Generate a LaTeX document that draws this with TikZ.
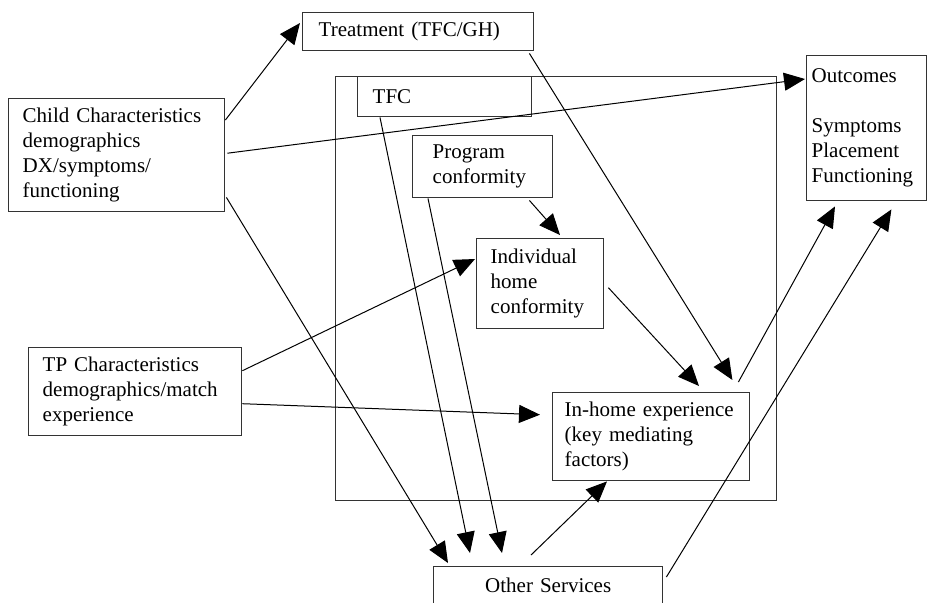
\documentclass[tikz,border=0pt]{standalone}
\usepackage{fontspec}
\setmainfont{Liberation Serif}
\usetikzlibrary{arrows.meta,calc}
\begin{document}
\begin{tikzpicture}[x=0.5pt,y=-0.5pt,
  box/.style={draw=black!80, line width=0.7pt, rectangle, anchor=north west, align=left,
    font=\fontsize{10.5}{12.5}\selectfont, inner ysep=0pt},
  conn/.style={line width=0.5pt, -{Triangle[length=10.5pt,width=9pt]}}]
\useasboundingbox (0,0) rectangle (927,602);
\clip (0,0) rectangle (927,602);
\node[box, minimum width=220.5pt, minimum height=212pt] (big) at (335,76) {};
\node[box, minimum width=115.5pt, minimum height=19pt, text width=99.5pt, inner xsep=8pt] (treat) at (302,12) {Treatment (TFC/GH)};
\node[box, minimum width=87pt, minimum height=20pt, text width=72pt, inner xsep=7.5pt] (tfc) at (357,76) {TFC};
\node[box, minimum width=108pt, minimum height=56.5pt, text width=94pt, inner xsep=7pt] (child) at (8,98) {Child Characteristics\\demographics\\DX/symptoms/\\functioning};
\node[box, minimum width=60pt, minimum height=72.5pt, text width=55pt, inner xsep=2.5pt] (outc) at (806,55) {Outcomes\\[12.5pt]Symptoms\\Placement\\Functioning};
\node[box, minimum width=70pt, minimum height=31pt, text width=50pt, inner xsep=10pt] (prog) at (412,135) {Program\\conformity};
\node[box, minimum width=63.5pt, minimum height=45pt, text width=49.5pt, inner xsep=7pt] (indiv) at (476,238) {Individual\\home\\conformity};
\node[box, minimum width=106.5pt, minimum height=44pt, text width=92.5pt, inner xsep=7pt] (tp) at (28,347) {TP Characteristics\\demographics/match\\experience};
\node[box, minimum width=98.5pt, minimum height=44pt, text width=86.5pt, inner xsep=6pt] (inhome) at (552,392) {In-home experience\\(key mediating\\factors)};
\node[box, minimum width=114.5pt, minimum height=19pt, text width=100pt, inner xsep=7.25pt, align=center] (other) at (433,566) {Other Services};

\draw[conn] ($(child.north east)+(0,22)$) -- ($(treat.north west)+(-2,11)$);
\draw[conn] ($(child.east)+(2,-2)$) -- ($(outc.north west)+(-1,24)$);
\draw[conn] ($(child.south east)+(1,-15)$) -- ($(other.north west)+(15,-3)$);
\draw[conn] ($(treat.south east)+(-5,2)$) -- ($(inhome.north east)+(-18,-12)$);
\draw[conn] ($(tfc.south west)+(23,0)$) -- ($(other.north west)+(37,-13)$);
\draw[conn] ($(prog.south west)+(16,0)$) -- ($(other.north west)+(69,-13)$);
\draw[conn] ($(prog.south east)+(-24,2)$) -- ($(indiv.north west)+(84,-3)$);
\draw[conn] ($(indiv.east)+(4,4)$) -- ($(inhome.north west)+(147,-6)$);
\draw[conn] ($(inhome.north east)+(-12,-10)$) -- ($(outc.south west)+(29,5)$);
\draw[conn] ($(other.north east)+(3,11)$) -- ($(outc.south east)+(-36,8)$);
\draw[conn] ($(other.north west)+(98,-11)$) -- ($(inhome.south west)+(55,0)$);
\draw[conn] ($(tp.east)+(0,-21)$) -- ($(indiv.north west)+(-1,21)$);
\draw[conn] ($(tp.east)+(0,12)$) -- ($(inhome.west)+(-12,-22)$);
\end{tikzpicture}
\end{document}
